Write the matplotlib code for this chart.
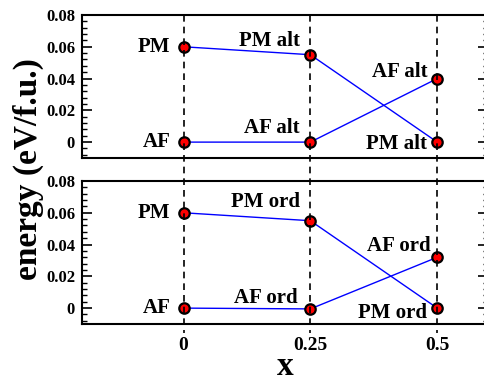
import matplotlib
matplotlib.use("Agg")
import matplotlib.pyplot as plt
from matplotlib.lines import Line2D
from matplotlib.ticker import MultipleLocator
import matplotlib.transforms as mtransforms

plt.rcParams["font.family"] = ["Liberation Serif", "DejaVu Serif"]
plt.rcParams["font.weight"] = "bold"

# data
x = [0, 0.25, 0.5]
pm_alt = [0.06, 0.055, 0.0]
af_alt = [0.0, 0.0, 0.04]
pm_ord = [0.06, 0.055, 0.0]
af_ord = [0.0, -0.0005, 0.032]

labels_alt = [["PM", "PM alt", "PM alt"], ["AF", "AF alt", "AF alt"]]
labels_ord = [["PM", "PM ord", "PM ord"], ["AF", "AF ord", "AF ord"]]

# label offsets in pixels, per point
off_alt = [[(-13, 0), (-10, 14), (-10, -2)], [(-13, 0), (-11, 14), (-10, 7)]]
off_ord = [[(-13, 0), (-10, 19), (-10, -5)], [(-13, 0), (-13, 11), (-7, 11)]]

fig = plt.figure(figsize=(4.85, 3.84), dpi=100)
ax1 = fig.add_axes([82 / 485, 1 - 158 / 384, 406 / 485, 143 / 384])
ax2 = fig.add_axes([82 / 485, 1 - 324 / 384, 406 / 485, 143 / 384])


def draw_panel(ax, pm, af, labels, offs):
    for ys in (pm, af):
        ax.plot(x, ys, color="blue", lw=1.0, zorder=2)
        ax.plot(x, ys, "o", ms=7.5, mfc="red", mec="black", mew=1.6,
                ls="none", zorder=3)
    for ys, labs, off in zip((pm, af), labels, offs):
        for xi, yi, lab, o in zip(x, ys, labs, off):
            ax.annotate(lab, (xi, yi), xytext=o, textcoords="offset pixels",
                        ha="right", va="center", fontsize=15,
                        fontweight="bold")
    ax.set_xlim(-0.2, 0.6)
    ax.set_ylim(-0.01, 0.08)
    ax.yaxis.set_major_locator(MultipleLocator(0.02))
    ax.yaxis.set_minor_locator(MultipleLocator(0.004))
    ax.yaxis.set_major_formatter(plt.FuncFormatter(
        lambda v, p: "0" if abs(v) < 1e-9 else f"{v:.2f}"))
    ax.tick_params(axis="y", which="major", direction="in", length=7,
                   width=1.2, left=True, right=True, labelsize=12, pad=5)
    ax.tick_params(axis="y", which="minor", direction="in", length=3.5,
                   width=1.0, left=True, right=True)
    ax.tick_params(axis="x", length=0, labelsize=14, pad=9)
    ax.set_xticks(x)
    for s in ax.spines.values():
        s.set_linewidth(1.5)


draw_panel(ax1, pm_alt, af_alt, labels_alt, off_alt)
draw_panel(ax2, pm_ord, af_ord, labels_ord, off_ord)
ax1.set_xticklabels([])
ax2.set_xticklabels(["0", "0.25", "0.5"])

# dashed guide lines through both panels
trans = mtransforms.blended_transform_factory(ax2.transData, fig.transFigure)
for xi in x:
    fig.add_artist(Line2D([xi, xi], [1 - 15 / 384, 1 - 333 / 384],
                          transform=trans, color="black", lw=1.2,
                          ls=(0, (4, 3)), zorder=1))

fig.text(0.058, 0.56, "energy (eV/f.u.)", rotation=90, ha="center",
         va="center", fontsize=24, fontweight="bold")
fig.text(0.588, 0.006, "x", ha="center", va="bottom", fontsize=24,
         fontweight="bold")

fig.savefig("out.png", dpi=100)
